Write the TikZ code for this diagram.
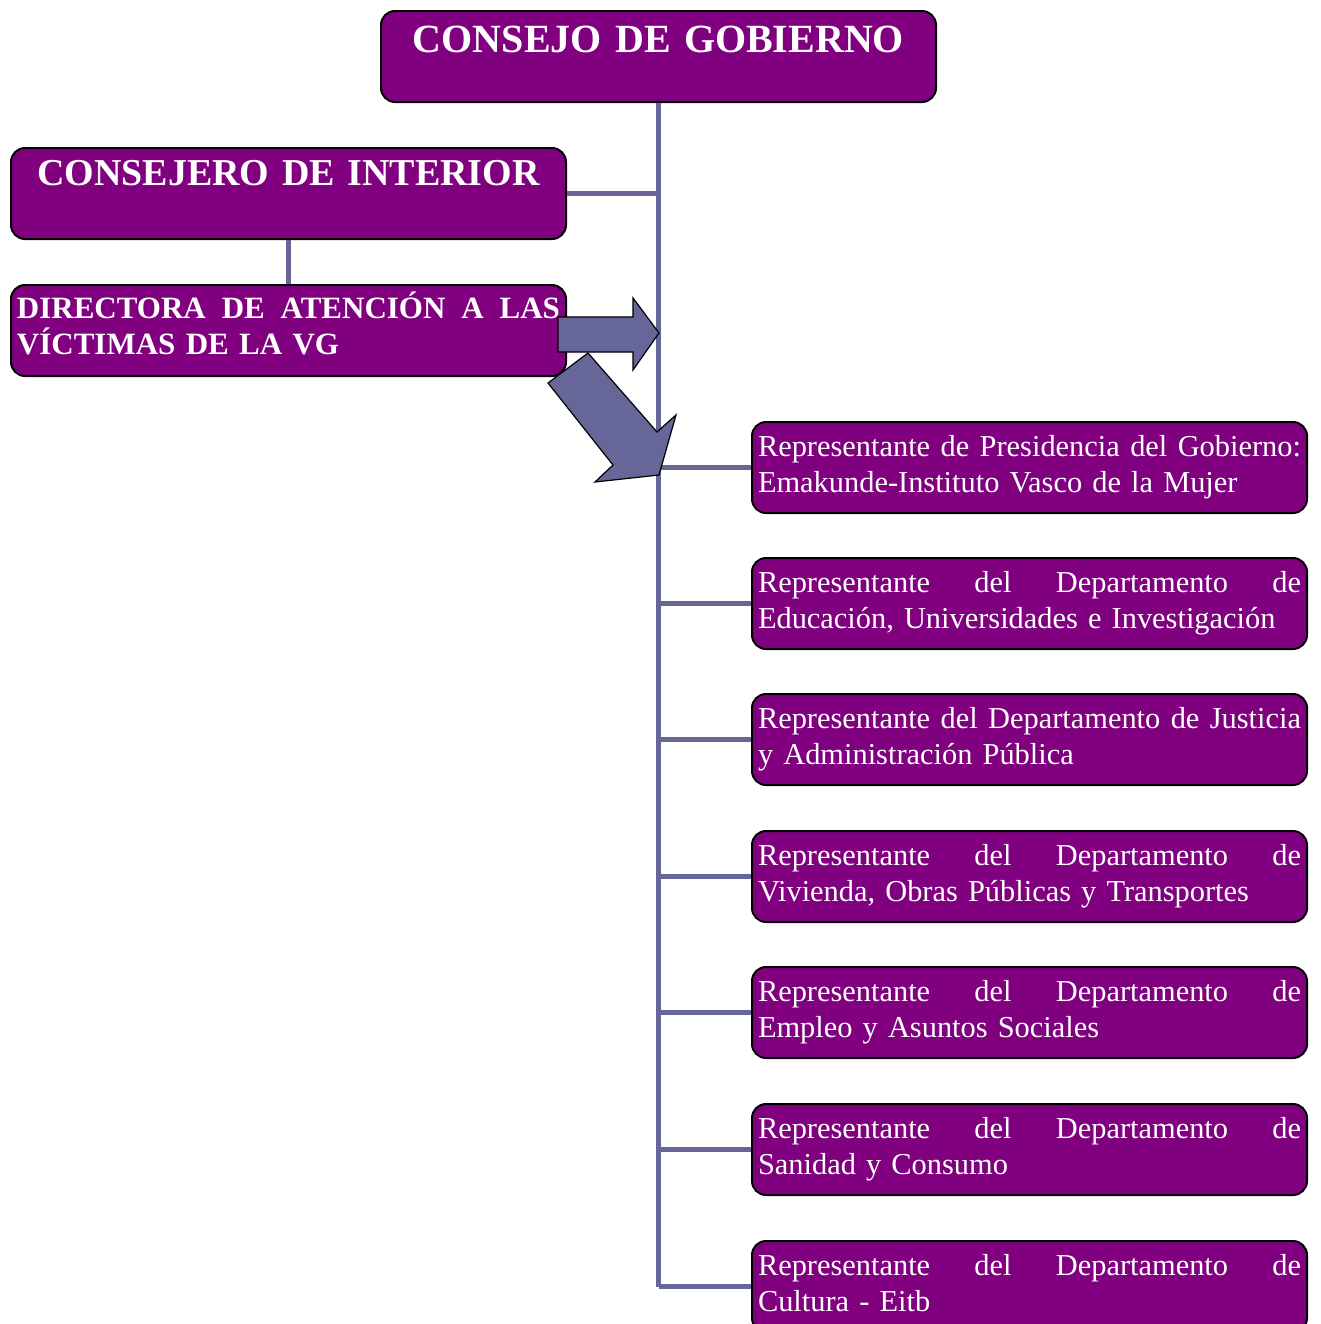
\documentclass[tikz,border=0pt]{standalone}
\usepackage{fontspec}
\setmainfont{Liberation Serif}
\definecolor{boxpurple}{RGB}{128,0,128}
\definecolor{linkblue}{RGB}{102,102,153}
\def\js{\ \hfill}
\newcommand{\twolines}[2]{\hbox to 271.5pt{#1}\\#2}
\begin{document}
\begin{tikzpicture}[x=0.5pt,y=-0.5pt,
  orgbox/.style={draw=black, line width=1pt, fill=boxpurple, rounded corners=7pt,
    text=white, inner xsep=3pt, inner ysep=0pt, anchor=north west, text width=271.5pt},
  titlebox/.style={orgbox, align=center, font=\fontsize{20}{24}\selectfont\bfseries},
  repbox/.style={orgbox, align=left, text height=17pt, text depth=28.5pt,
    font=\fontsize{15.2}{18}\selectfont},
  conn/.style={draw=linkblue, line width=2.5pt},
  bigarrow/.style={fill=linkblue, draw=black, line width=0.6pt, line join=miter}]
\useasboundingbox (0,0) rectangle (1321,1324);
\clip (0,0) rectangle (1321,1324);
\fill[white] (0,0) rectangle (1321,1324);

\node[titlebox, text height=20.5pt, text depth=25pt] (gob) at (380,10) {CONSEJO DE GOBIERNO};
\node[titlebox, text height=18.5pt, text depth=27pt, font=\fontsize{19}{23}\selectfont\bfseries] (int) at (10,147) {CONSEJERO DE INTERIOR};
\node[orgbox, align=left, text height=16.5pt, text depth=29pt, font=\fontsize{15.5}{18}\selectfont\bfseries] (dir) at (10,284)
  {\twolines{DIRECTORA\js DE\js ATENCIÓN\js A\js LAS}{VÍCTIMAS DE LA VG}};

\node[repbox] (r1) at (751,421) {\twolines{Representante\js de\js Presidencia\js del\js Gobierno:}{Emakunde-Instituto Vasco de la Mujer}};
\node[repbox] (r2) at (751,557) {\twolines{Representante\js del\js Departamento\js de}{Educación, Universidades e Investigación}};
\node[repbox] (r3) at (751,693) {\twolines{Representante\js del\js Departamento\js de\js Justicia}{y Administración Pública}};
\node[repbox] (r4) at (751,830) {\twolines{Representante\js del\js Departamento\js de}{Vivienda, Obras Públicas y Transportes}};
\node[repbox] (r5) at (751,966) {\twolines{Representante\js del\js Departamento\js de}{Empleo y Asuntos Sociales}};
\node[repbox] (r6) at (751,1103) {\twolines{Representante\js del\js Departamento\js de}{Sanidad y Consumo}};
\node[repbox] (r7) at (751,1240) {\twolines{Representante\js del\js Departamento\js de}{Cultura - Eitb}};

\draw[conn] (gob.south) -- (gob.south |- r7.west);
\draw[conn] (int.east) -- (int.east -| gob.south);
\draw[conn] (int.south) -- (dir.north);
\foreach \i in {1,...,7} {
  \draw[conn] (gob.south |- r\i.west) -- (r\i.west);
}

\draw[bigarrow] (558,317) -- (633,317) -- (633,298) -- (659,333) -- (633,370) -- (633,352) -- (558,352) -- cycle;
\draw[bigarrow] (548,383) -- (588,353) -- (657,432) -- (676,415) -- (659,475) -- (595,482) -- (613,465) -- cycle;
\end{tikzpicture}
\end{document}
